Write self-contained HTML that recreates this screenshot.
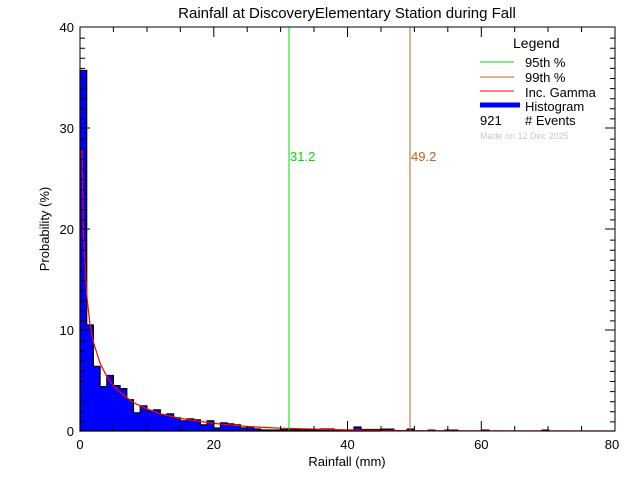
<!DOCTYPE html>
<html><head><meta charset="utf-8"><style>html,body{margin:0;padding:0;background:#fff}svg{display:block}text{font-family:"Liberation Sans",sans-serif}</style></head>
<body>
<svg width="640" height="480" viewBox="0 0 640 480" xmlns="http://www.w3.org/2000/svg">
<rect width="640" height="480" fill="#fff"/>
<path d="M80 431 V70.4 H86.7 V325 H93.4 V366.4 H100.1 V386.6 H106.8 V375.5 H113.4 V385.6 H120.1 V388.6 H126.8 V399.7 H133.5 V412.8 H140.2 V405.8 H146.9 V410.8 H153.6 V409.8 H160.3 V414.8 H166.9 V413.8 H173.6 V417.9 H180.3 V420.9 H187 V418.9 H193.7 V419.9 H200.4 V424.9 H207.1 V420.9 H213.8 V428 H220.4 V422.9 H227.1 V423.9 H233.8 V424.9 H240.5 V428 H247.2 V427 H253.9 V429 H260.6 V430 H280.6 V429.5 H300 V430 H320 V429 H334 V430 H354 V427 H361 V429.5 H380 V431 Z" fill="#0000ff" stroke="#000" stroke-width="1.2"/>
<g fill="#0000ff" stroke="#000" stroke-width="1">
<rect x="381" y="429" width="13" height="2"/><rect x="407" y="429" width="7" height="2"/><rect x="428" y="430" width="7" height="1"/><rect x="445" y="430" width="13" height="1"/><rect x="482" y="430" width="7" height="1"/><rect x="542" y="430" width="7" height="1"/>
</g>
<polyline fill="none" stroke="#ff0000" stroke-width="1.2" points="82,150 83.3,229 84.7,259.3 86.7,294.6 90,325 93.4,342.1 100.1,363.3 106.8,376.5 113.4,385.6 120.1,392.6 133.5,402.7 146.9,408.8 160.3,413.8 180.3,418.4 213.8,423.4 247.2,426.5 280.6,428.2 347.5,430 414.4,430.7 615,431"/>
<line x1="289" y1="27" x2="289" y2="431" stroke="#00dd00" stroke-width="1"/>
<line x1="410" y1="27" x2="410" y2="431" stroke="#b8651a" stroke-width="1"/>
<text x="290" y="161" font-size="13" fill="#00dd00">31.2</text>
<text x="411" y="161" font-size="13" fill="#b8651a">49.2</text>
<rect x="80" y="27" width="535" height="404" fill="none" stroke="#000" stroke-width="1"/>
<g stroke="#000" stroke-width="1" id="t">
<path d="M80 421.9h5M80 411.8h5M80 401.7h5M80 391.6h5M80 381.5h5M80 371.4h5M80 361.3h5M80 351.2h5M80 341.1h5M80 320.9h5M80 310.8h5M80 300.7h5M80 290.6h5M80 280.5h5M80 270.4h5M80 260.3h5M80 250.2h5M80 240.1h5M80 219.9h5M80 209.8h5M80 199.7h5M80 189.6h5M80 179.5h5M80 169.4h5M80 159.3h5M80 149.2h5M80 139.1h5M80 118.9h5M80 108.8h5M80 98.7h5M80 88.6h5M80 78.5h5M80 68.4h5M80 58.3h5M80 48.2h5M80 38.1h5"/>
<path d="M615 421.9h-5M615 411.8h-5M615 401.7h-5M615 391.6h-5M615 381.5h-5M615 371.4h-5M615 361.3h-5M615 351.2h-5M615 341.1h-5M615 320.9h-5M615 310.8h-5M615 300.7h-5M615 290.6h-5M615 280.5h-5M615 270.4h-5M615 260.3h-5M615 250.2h-5M615 240.1h-5M615 219.9h-5M615 209.8h-5M615 199.7h-5M615 189.6h-5M615 179.5h-5M615 169.4h-5M615 159.3h-5M615 149.2h-5M615 139.1h-5M615 118.9h-5M615 108.8h-5M615 98.7h-5M615 88.6h-5M615 78.5h-5M615 68.4h-5M615 58.3h-5M615 48.2h-5M615 38.1h-5"/>
<path d="M80 330h10M80 229h10M80 128h10M605 330h10M605 229h10M605 128h10"/>
<path d="M213.8 431v-10M347.5 431v-10M481.3 431v-10M213.8 27v10M347.5 27v10M481.3 27v10"/>
<path d="M113.4 431v-5M147 431v-5M180.3 431v-5M247.2 431v-5M280.6 431v-5M314 431v-5M381 431v-5M414.4 431v-5M447.8 431v-5M514.7 431v-5M548 431v-5M581.6 431v-5"/>
<path d="M113.4 27v5M147 27v5M180.3 27v5M247.2 27v5M280.6 27v5M314 27v5M381 27v5M414.4 27v5M447.8 27v5M514.7 27v5M548 27v5M581.6 27v5"/>
</g>
<g font-size="13" fill="#000">
<text x="74" y="436" text-anchor="end">0</text>
<text x="74" y="335" text-anchor="end">10</text>
<text x="74" y="234" text-anchor="end">20</text>
<text x="74" y="133" text-anchor="end">30</text>
<text x="74" y="32" text-anchor="end">40</text>
<text x="80" y="449" text-anchor="middle">0</text>
<text x="213.8" y="449" text-anchor="middle">20</text>
<text x="347.5" y="449" text-anchor="middle">40</text>
<text x="481.3" y="449" text-anchor="middle">60</text>
<text x="612" y="449" text-anchor="middle">80</text>
<text x="347" y="466" text-anchor="middle">Rainfall (mm)</text>
<text transform="translate(49,229) rotate(-90)" text-anchor="middle">Probability (%)</text>
<text x="347" y="18" text-anchor="middle" font-size="15">Rainfall at DiscoveryElementary Station during Fall</text>
<text x="513" y="48" font-size="14">Legend</text>
<text x="525" y="67">95th %</text>
<text x="525" y="82">99th %</text>
<text x="525" y="97">Inc. Gamma</text>
<text x="525" y="111">Histogram</text>
<text x="480" y="125">921</text>
<text x="525" y="125"># Events</text>
</g>
<line x1="480" y1="62" x2="514" y2="62" stroke="#00dd00"/>
<line x1="480" y1="77" x2="514" y2="77" stroke="#b8651a"/>
<line x1="480" y1="91" x2="514" y2="91" stroke="#ff0000"/>
<line x1="480" y1="105" x2="520" y2="105" stroke="#0000ff" stroke-width="5"/>
<text x="480" y="139" font-size="9" fill="#c8c8c8">Made on 12 Dec 2025</text>
</svg>
</body></html>
